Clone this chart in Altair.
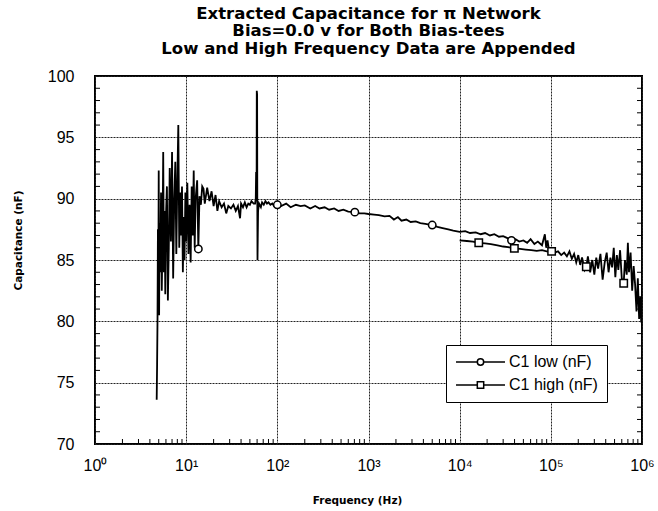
import altair as alt
import pandas as pd

# ---------------- data ----------------
LOW_FREQ = [4.75, 4.8, 4.85, 4.9, 4.95, 5.0, 5.05, 5.1, 5.2, 5.3, 5.4, 5.5, 5.6, 5.7, 5.8, 5.9,
            6.0, 6.15, 6.3, 6.45, 6.6, 6.8, 7.0, 7.2, 7.4, 7.6, 7.8, 8.0, 8.2, 8.4, 8.6, 8.8,
            9.0, 9.2, 9.4, 9.6, 9.8, 10.0, 10.3, 10.6, 10.9, 11.2, 11.5, 11.8, 12.1, 12.4, 12.7,
            13.2, 13.6, 14.0, 14.5, 15.0, 15.5, 16, 17, 18, 19, 20, 21, 22, 23, 24.5, 26, 27.5,
            29, 31, 33, 35, 37, 39, 40, 42, 44, 46, 48, 50, 52, 55, 57, 58, 58.5, 59.3, 59.5, 60,
            60.3, 60.6, 61.5, 63, 66, 68, 71, 74, 77, 80, 84, 88, 92, 96, 100, 110, 125, 140, 160,
            180, 200, 230, 260, 290, 330, 370, 420, 470, 530, 600, 708, 800, 900, 1000, 1150,
            1300, 1500, 1700, 1900, 2100, 2300, 2600, 2900, 3300, 3700, 4200, 5000, 5700, 6500,
            7500, 8500, 10000, 11500, 13000, 15000, 17000, 19000, 21500, 24000, 27000, 30000,
            33000, 37000, 41000, 45000, 50000, 55000, 60000, 66000, 72000, 80000, 86000, 89000,
            92000, 95000]
LOW_VAL = [73.6, 76.5, 80.2, 87.5, 83.0, 92.3, 80.5, 88.0, 84.0, 90.5, 82.5, 86.5, 93.8, 84.0, 89.0, 82.2,
           88.5, 91.0, 81.7, 86.0, 92.5, 86.5, 93.8, 83.5, 90.0, 93.0, 85.5, 91.5, 96.0, 86.0, 90.5, 87.0,
           91.0, 84.0, 88.5, 85.0, 90.5, 86.5, 91.3, 85.5, 89.5, 84.8, 91.0, 87.0, 92.3, 86.0, 90.0,
           91.5, 85.9, 90.2, 89.5, 91.0, 90.8, 89.6, 90.9, 89.8, 90.6, 89.4, 90.3, 89.0, 89.8, 89.3, 89.6, 88.8,
           89.4, 89.2, 89.5, 89.0, 89.4, 88.4, 89.6, 89.3, 89.7, 89.3, 89.6, 89.5, 89.8, 89.6, 89.6, 90.0, 92.1, 92.1, 98.8, 98.5,
           90.0, 85.0, 89.0, 89.6, 89.3, 89.7, 89.5, 89.8, 89.6, 89.7, 89.5, 89.6, 89.4, 89.5, 89.5, 89.4, 89.6, 89.3, 89.5,
           89.4, 89.45, 89.2, 89.4, 89.2, 89.3, 89.1, 89.2, 89.0, 89.1, 88.95, 88.9, 88.8, 88.8, 88.75, 88.7,
           88.65, 88.55, 88.6, 88.3, 88.5, 88.2, 88.3, 88.1, 88.15, 88.0, 87.95, 87.85, 87.7, 87.6,
           87.5, 87.4, 87.3, 87.35, 87.2, 87.25, 87.1, 87.2, 87.0, 87.1, 86.9, 86.95,
           86.8, 86.6, 86.7, 86.5, 86.6, 86.4, 86.7, 86.3, 86.5, 86.2, 87.1, 86.0,
           86.6, 85.9]
LOW_MARKERS = [13.6, 100, 708, 5000, 37000]

HIGH_FREQ = [10000, 12000, 14000, 16200, 19000, 22000, 26000, 30000, 34000, 39800, 46000, 53000,
             61000, 70000, 80000, 90000, 102000, 110000, 120000, 130000, 140000, 150000, 160000,
             170000, 180000, 190000, 200000, 210000, 220000, 235000, 245000, 255000, 270000,
             285000, 300000, 315000, 330000, 350000, 370000, 390000, 410000, 430000, 450000,
             470000, 490000, 510000, 530000, 550000, 575000, 600000, 630000, 650000, 680000,
             700000, 720000, 750000, 780000, 810000, 840000, 870000, 900000, 930000, 960000,
             980000, 1000000]
HIGH_VAL = [86.6, 86.55, 86.5, 86.4, 86.35, 86.3, 86.2, 86.1, 86.05, 85.95, 85.9, 85.85,
            85.8, 85.75, 85.8, 85.7, 85.7, 85.6, 85.7, 85.4, 85.6, 85.3, 85.7,
            85.1, 85.5, 84.8, 85.4, 84.6, 85.2, 84.2, 84.45, 85.3, 84.0,
            85.0, 83.8, 85.2, 84.3, 85.5, 83.4, 84.8, 85.6, 84.0, 85.2,
            84.4, 86.0, 83.6, 85.4, 84.2, 85.8, 83.5, 83.1, 85.0, 83.8,
            86.4, 84.0, 85.6, 82.5, 84.5, 83.0, 80.8, 83.5, 80.2, 82.0,
            79.9, 81.3]
HIGH_MARKERS = [16200, 39800, 102000, 245000, 630000]

SERIES = ["C1 low (nF)", "C1 high (nF)"]
X_TICKS = [1, 10, 100, 1000, 10000, 100000, 1000000]
Y_TICKS = [70, 75, 80, 85, 90, 95, 100]
X_MINOR = [m * d for d in [1, 10, 100, 1000, 10000, 100000] for m in range(2, 10)]
Y_MINOR = [v for v in range(71, 100) if v % 5 != 0]

W, H = 547, 368
FONT = "Liberation Sans, Arial, Helvetica, sans-serif"
BOLD_FONT = "DejaVu Sans, Verdana, sans-serif"

low = pd.DataFrame({"f": LOW_FREQ, "c": LOW_VAL, "series": SERIES[0]})
high = pd.DataFrame({"f": HIGH_FREQ, "c": HIGH_VAL, "series": SERIES[1]})
low_m = low[low["f"].isin(LOW_MARKERS)]
high_m = high[high["f"].isin(HIGH_MARKERS)]
allm = pd.concat([low_m, high_m])

xs = alt.Scale(type="log", domain=[1, 1e6], nice=False)
ys = alt.Scale(domain=[70, 100], nice=False, zero=False)

sup = "['\u2070','\u00b9','\u00b2','\u00b3','\u2074','\u2075','\u2076'][round(log(datum.value)/LN10)]"

x_axis = alt.Axis(values=X_TICKS, labelExpr="'10' + " + sup, grid=True, ticks=False,
                  domain=False, labelFont=FONT, labelFontSize=16, labelColor="black",
                  labelPadding=13, labelOverlap=False, labelFlush=False,
                  title="Frequency (Hz)", titleFont=BOLD_FONT, titleFontSize=10.5,
                  titleFontWeight="bold",
                  titleColor="black", titleX=262, titleY=56, titleBaseline="middle",
                  titleAnchor="middle", gridColor="#222222", gridDash=[2, 1], gridWidth=1,
                  gridOpacity=1)
y_axis = alt.Axis(values=Y_TICKS, grid=True, ticks=False, domain=False, labelFont=FONT,
                  labelFontSize=16, labelColor="black", labelPadding=21,
                  title="Capacitance (nF)", titleFont=BOLD_FONT, titleFontSize=10.5,
                  titleFontWeight="bold", titleColor="black", titleAngle=-90,
                  titleX=-77, titleY=164, titleBaseline="middle", titleAnchor="middle",
                  gridColor="#222222", gridDash=[2, 1], gridWidth=1, gridOpacity=1)

X = lambda: alt.X("f:Q", scale=xs, axis=x_axis)
Y = lambda: alt.Y("c:Q", scale=ys, axis=y_axis)

def line(df):
    return alt.Chart(df).mark_line(color="black", strokeWidth=1.8, clip=True).encode(
        x=X(), y=Y(), order="f:Q")

def markers(df, shape):
    return alt.Chart(df).mark_point(shape=shape, size=55, filled=True, fill="white",
                                    stroke="black", strokeWidth=1.5, opacity=1).encode(
        x=X(), y=Y())

circ_path = ("M-1,0L-0.13,0M0.13,0L1,0M-0.13,0A0.13,0.13,0,1,1,0.13,0"
             "A0.13,0.13,0,1,1,-0.13,0Z")
sq_path = ("M-1,0L-0.13,0M0.13,0L1,0M-0.13,-0.13L0.13,-0.13L0.13,0.13L-0.13,0.13Z")

legend_layer = alt.Chart(allm).mark_point(color="black", opacity=0, filled=False).encode(
    x=X(), y=Y(),
    shape=alt.Shape("series:N", scale=alt.Scale(domain=SERIES, range=[circ_path, sq_path]),
                    legend=alt.Legend(title=None, orient="none", legendX=351, legendY=269,
                                      fillColor="white", strokeColor="black",
                                      padding=9, rowPadding=7, clipHeight=16,
                                      symbolSize=2400, symbolOpacity=1,
                                      symbolStrokeColor="black", symbolFillColor="white",
                                      symbolStrokeWidth=1.5, labelFont=FONT,
                                      labelFontSize=16, labelColor="black",
                                      labelOffset=3, labelLimit=200)))

xminor = alt.Chart(pd.DataFrame({"f": X_MINOR})).mark_rule(color="black", strokeWidth=1).encode(
    x=X(), y=alt.value(H), y2=alt.value(H - 5))
yminor_l = alt.Chart(pd.DataFrame({"c": Y_MINOR})).mark_rule(color="black", strokeWidth=1).encode(
    y=Y(), x=alt.value(0), x2=alt.value(5))
yminor_r = alt.Chart(pd.DataFrame({"c": Y_MINOR})).mark_rule(color="black", strokeWidth=1).encode(
    y=Y(), x=alt.value(W - 5), x2=alt.value(W))

chart = alt.layer(
    line(low), line(high), xminor, yminor_l, yminor_r,
    markers(low_m, "circle"), markers(high_m, "square"), legend_layer
).properties(
    width=W, height=H, background="white",
    title=alt.TitleParams(["Extracted Capacitance for \u03c0 Network",
                           "Bias=0.0 v for Both Bias-tees",
                           "Low and High Frequency Data are Appended"],
                          font=BOLD_FONT, fontSize=16.5, fontWeight="bold", color="black",
                          lineHeight=17.5, anchor="middle", offset=11),
    autosize=alt.AutoSizeParams(type="none"),
    padding={"left": 95, "top": 76, "right": 16, "bottom": 67},
).configure_view(stroke="black", strokeWidth=2)

chart.save("out.html", embed_options={"renderer": "svg", "actions": False})
